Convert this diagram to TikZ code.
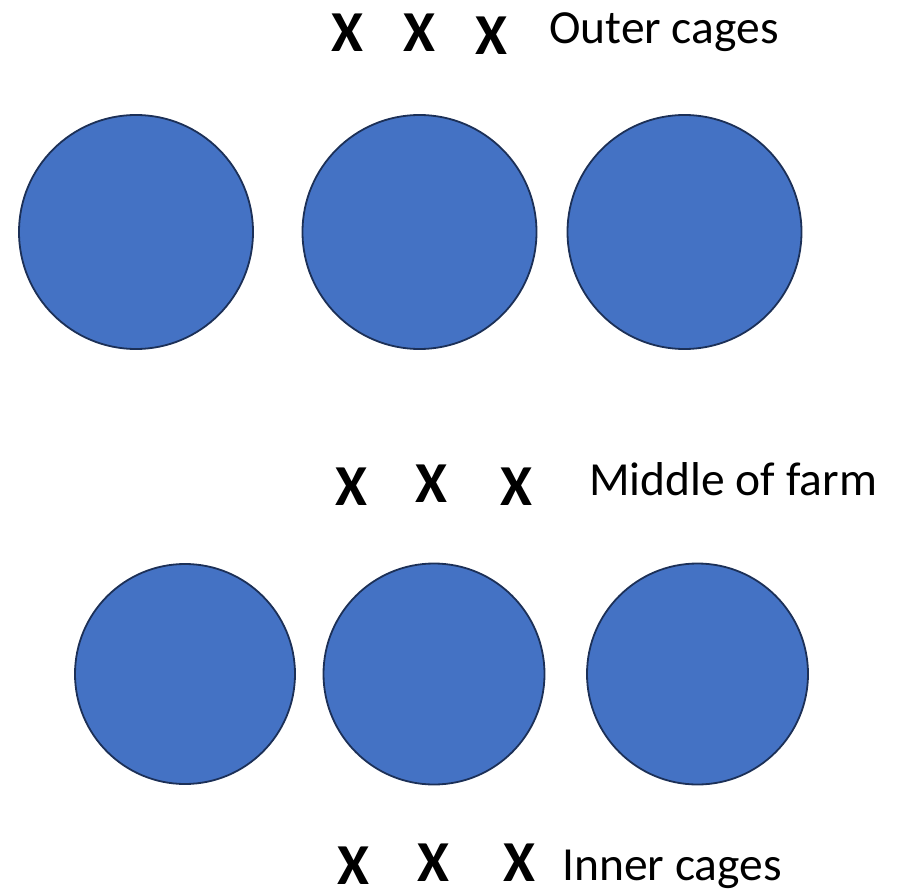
\documentclass[tikz,border=0pt]{standalone}
\usepackage{fontspec}
\setmainfont{Carlito}
\definecolor{cfill}{HTML}{4472C4}
\definecolor{cline}{HTML}{1C3057}
\begin{document}
\begin{tikzpicture}[x=1pt,y=-1pt,
  cage/.style={circle,fill=cfill,draw=cline,line width=1.8pt,inner sep=0pt,minimum size=#1},
  xmark/.style={font=\fontsize{58}{60}\selectfont\bfseries,inner sep=0pt,anchor=base},
  lab/.style={font=\fontsize{47.5}{50}\selectfont,inner sep=0pt,anchor=base west}]
\useasboundingbox (0,0) rectangle (904,893);
\node[cage=234pt] (t1) at (136,232) {};
\node[cage=234pt] (t2) at (419.5,232) {};
\node[cage=234pt] (t3) at (684.5,232) {};
\node[cage=220pt] (b1) at (185,674) {};
\node[cage=221pt] (b2) at (434,674) {};
\node[cage=221pt] (b3) at (697.5,674) {};
\node[xmark] (x1) at (347.5,52) {X};
\node[xmark] (x2) at (419,52) {X};
\node[xmark] (x3) at (491,55) {X};
\node[lab] (l1) at (549,44) {Outer cages};
\node[xmark] (m1) at (351,505) {X};
\node[xmark] (m2) at (431,502) {X};
\node[xmark] (m3) at (516,505) {X};
\node[lab] (l2) at (589,495) {Middle of farm};
\node[xmark] (n1) at (353,884) {X};
\node[xmark] (n2) at (433,881) {X};
\node[xmark] (n3) at (519,881) {X};
\node[lab] (l3) at (562,880) {Inner cages};
\end{tikzpicture}
\end{document}
